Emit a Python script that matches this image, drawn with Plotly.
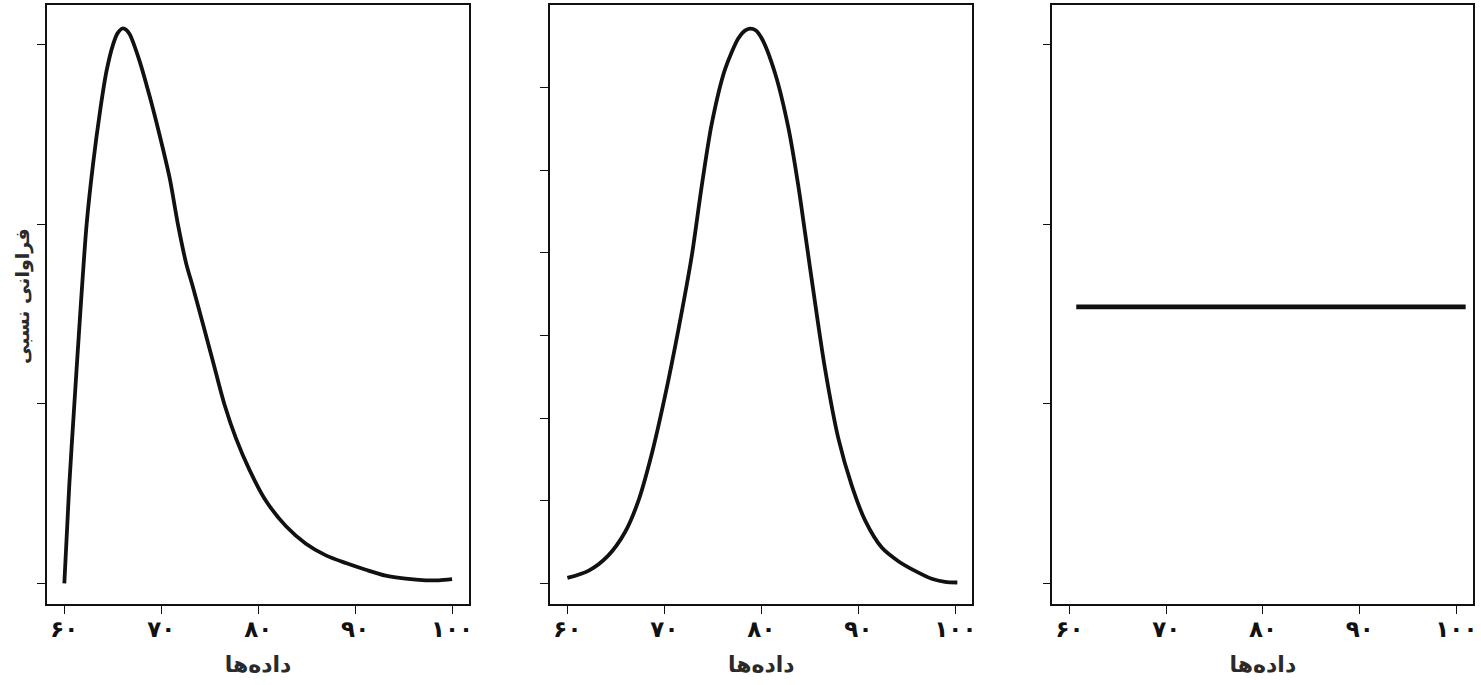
"""
Three relative-frequency curves side by side: skewed, bell-shaped and uniform.
"""

import plotly.graph_objects as go

# panel 1: right-skewed curve
skew_x = [60.0, 60.51, 61.03, 61.61, 62.30, 62.98, 63.67, 64.35, 65.04, 65.5,
          66.0, 66.4, 66.75, 67.78, 68.81, 69.84, 70.87, 71.72, 72.58, 73.27,
          74.30, 75.32, 76.52, 77.72, 79.10, 80.81, 82.87, 84.92, 86.98, 89.04,
          91.09, 93.15, 95.21, 97.26, 98.64, 100.0]
skew_y = [0.0, 0.546, 0.996, 1.477, 2.0, 2.343, 2.625, 2.853, 3.004, 3.065,
          3.091, 3.083, 3.058, 2.907, 2.712, 2.495, 2.257, 2.0, 1.780, 1.650,
          1.445, 1.239, 0.996, 0.806, 0.632, 0.459, 0.318, 0.221, 0.156, 0.113,
          0.076, 0.043, 0.026, 0.017, 0.017, 0.024]

# panel 2: symmetric bell curve
bell_x = [60.0, 62.16, 64.23, 65.95, 67.32, 68.69, 70.07, 71.44, 72.82, 73.85,
          74.88, 76.25, 77.63, 78.3, 78.83, 79.4, 80.03, 81.41, 82.78, 83.81,
          84.50, 85.53, 86.56, 87.94, 89.31, 90.69, 92.41, 94.12, 95.84, 97.56,
          98.93, 100.2]
bell_y = [0.066, 0.151, 0.339, 0.621, 0.998, 1.562, 2.268, 3.068, 3.962, 4.809,
          5.562, 6.221, 6.598, 6.690, 6.715, 6.695, 6.598, 6.174, 5.515, 4.809,
          4.245, 3.398, 2.598, 1.751, 1.186, 0.762, 0.433, 0.268, 0.151, 0.056,
          0.019, 0.01]

# panel 3: uniform
flat_x = [60.69, 100.96]
flat_y = [1.54, 1.54]

x_ticks = [60, 70, 80, 90, 100]
x_tick_labels = ["۶۰", "۷۰", "۸۰", "۹۰", "۱۰۰"]
x_title = "داده‌ها"
y_title = "فراوانی نسبی"

FONT = "DejaVu Sans"
INK = "#111111"
W, H = 1481, 685

panels = [
    (skew_x, skew_y, [47.3, 470.3], [-0.115, 3.222], [0, 1, 2, 3], 3.8),
    (bell_x, bell_y, [551.7, 975.0], [-0.25, 7.0], [0, 1, 2, 3, 4, 5, 6], 3.8),
    (flat_x, flat_y, [1055.3, 1477.3], [-0.115, 3.222], [0, 1, 2, 3], 4.6),
]

fig = go.Figure()

for i, (xs, ys, px, yrange, yticks, lw) in enumerate(panels, start=1):
    suffix = "" if i == 1 else str(i)
    fig.add_trace(go.Scatter(
        x=xs, y=ys, mode="lines",
        line=dict(color=INK, width=lw, shape="spline", smoothing=0.8),
        xaxis="x" + suffix, yaxis="y" + suffix, showlegend=False,
        hoverinfo="skip",
    ))
    fig.update_layout({
        "xaxis" + suffix: dict(
            domain=[px[0] / W, px[1] / W], range=[58.23, 101.75],
            anchor="y" + suffix,
            tickvals=x_ticks, ticktext=x_tick_labels,
            ticks="outside", ticklen=8, tickcolor=INK, tickwidth=1,
            ticklabelstandoff=-4,
            showline=True, mirror=True, linecolor=INK, linewidth=1.5,
            showgrid=False, zeroline=False,
            tickfont=dict(family=FONT, size=23, color=INK, weight="bold"),
            title=dict(text="<b>" + x_title + "</b>", standoff=15,
                       font=dict(family=FONT, size=22, color="#2a2a2a")),
        ),
        "yaxis" + suffix: dict(
            domain=[1 - 604 / H, 1 - 5 / H], range=yrange,
            anchor="x" + suffix,
            tickvals=yticks, showticklabels=False,
            ticks="outside", ticklen=8, tickcolor=INK, tickwidth=1,
            showline=True, mirror=True, linecolor=INK, linewidth=1.5,
            showgrid=False, zeroline=False,
        ),
    })

fig.add_annotation(
    text="<b>" + y_title + "</b>", xref="paper", yref="paper",
    x=22 / W, y=1 - 296 / H, xanchor="center", yanchor="middle",
    textangle=-90, showarrow=False,
    font=dict(family=FONT, size=19, color="#2a2a2a"),
)

fig.update_layout(
    width=W, height=H,
    margin=dict(l=0, r=0, t=0, b=0),
    paper_bgcolor="white", plot_bgcolor="white",
)

# drop the default page margin so the figure sits at the window's top-left
fig.write_html("out.html",
               config={"displayModeBar": False},
               post_script="document.body.style.margin='0';")
